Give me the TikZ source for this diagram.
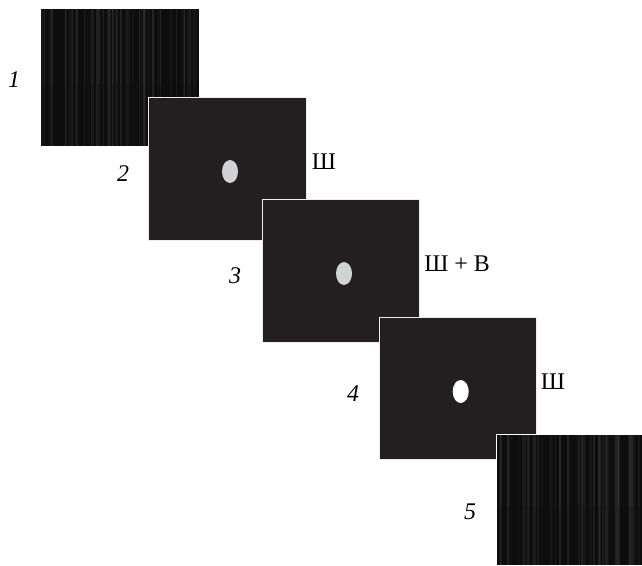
\documentclass[tikz,border=0pt]{standalone}
\usepackage{fontspec}
\setmainfont{Liberation Serif}
\definecolor{panelgray}{HTML}{231F20}
\definecolor{spotgray}{HTML}{D1D2D4}

% streaky noise screen, corners in px
\newcommand{\curtain}[4]{%
  \fill[black!95] (#1,#2) rectangle (#3,#4);
  \pgfmathsetseed{#1}
  \foreach \k in {1,...,70}{
    \pgfmathsetmacro{\sx}{#1+rnd*(#3-#1-3)}
    \pgfmathsetmacro{\sw}{0.8+1.8*rnd}
    \pgfmathsetmacro{\sl}{80+14*rnd}
    \fill[black!\sl, opacity=0.5] (\sx,#2) rectangle (\sx+\sw,#4);
    \fill[black!\sl, opacity=0.35] (\sx,#2) rectangle (\sx+\sw,{#2+0.55*(#4-#2)});
  }
}

\begin{document}
\begin{tikzpicture}[x=0.025cm, y=-0.025cm,
    panel/.style={fill=panelgray, draw=white!85!gray, line width=0.7pt},
    tag/.style={font=\fontsize{17}{20}\selectfont\itshape},
    cond/.style={font=\fontsize{17}{20}\selectfont}]
        \useasboundingbox (0,0) rectangle (642,565);

        % 1: noise
        \curtain{41}{9}{199}{146}
        \node[tag] (n1) at (14,80) {1};

        % 2: noise + grey spot
        \draw[panel] (148,97) rectangle (306,240);
        \fill[spotgray] (230,171.5) ellipse [x radius=8, y radius=11.5];
        \node[tag] (n2) at (123,174) {2};
        \node[cond] (c2) at (324,162) {Ш};

        % 3: noise + signal
        \draw[panel] (262,199) rectangle (419,342);
        \fill[spotgray] (344,273.5) ellipse [x radius=8, y radius=11.5];
        \node[tag] (n3) at (235,276) {3};
        \node[cond] (c3) at (457,264) {Ш + В};

        % 4: noise + white spot
        \draw[panel] (379,317) rectangle (536,459);
        \fill[white] (460.7,391.5) ellipse [x radius=8, y radius=11.5];
        \node[tag] (n4) at (353,394) {4};
        \node[cond] (c4) at (553,382) {Ш};

        % 5: noise
        \curtain{496}{434}{642}{565}
        \draw[white, line width=0.7pt] (496,565) -- (496,434) -- (642,434);
        \node[tag] (n5) at (470,512) {5};
\end{tikzpicture}
\end{document}
